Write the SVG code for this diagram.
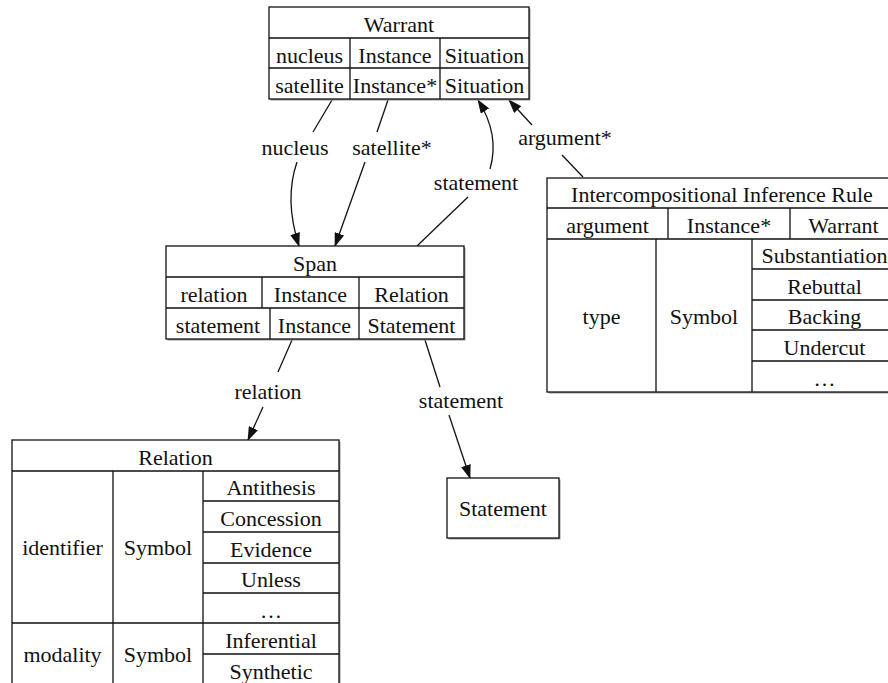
<svg xmlns="http://www.w3.org/2000/svg" width="888" height="683" viewBox="0 0 888 683">
<defs>
<marker id="ah" markerUnits="userSpaceOnUse" markerWidth="14" markerHeight="10" refX="13" refY="5" orient="auto">
<path d="M0,0 L14,5 L0,10 z" fill="#111"/>
</marker>
</defs>
<rect width="888" height="683" fill="#fff"/>
<g font-family="Liberation Serif" font-size="22" text-anchor="middle">

<g id="connectors" stroke="#111" stroke-width="1.3" fill="none">
<path d="M332,100 L313,132"/>
<path d="M297,162 C288,188 290,218 299,246" marker-end="url(#ah)"/>
<path d="M388,100 L377,132"/>
<path d="M365,162 L335,246" marker-end="url(#ah)"/>
<path d="M417,246 L468,197"/>
<path d="M490,169 C497,145 492,122 478,100" marker-end="url(#ah)"/>
<path d="M583,177 L562,155"/>
<path d="M532,125 L509,100" marker-end="url(#ah)"/>
<path d="M292,340 L278,372"/>
<path d="M263,407 L248,440" marker-end="url(#ah)"/>
<path d="M425,340 L440,387"/>
<path d="M449,415 L470,478" marker-end="url(#ah)"/>
<g fill="#111" stroke="none">
<text font-family="Liberation Serif" font-size="22" x="295" y="155">nucleus</text>
<text font-family="Liberation Serif" font-size="22" x="392" y="155">satellite*</text>
<text font-family="Liberation Serif" font-size="22" x="476" y="190">statement</text>
<text font-family="Liberation Serif" font-size="22" x="565" y="145">argument*</text>
<text font-family="Liberation Serif" font-size="22" x="268" y="399">relation</text>
<text font-family="Liberation Serif" font-size="22" x="461" y="408">statement</text>
</g>
</g>

<g id="warrant" fill="#111">
<rect x="270.5" y="8.5" width="260" height="92" fill="#999"/>
<rect x="269" y="7" width="260" height="92" fill="#fff" stroke="#111" stroke-width="1.3"/>
<path d="M269,38 H529 M269,68 H529 M350,38 V99 M440,38 V99" stroke="#111" stroke-width="1.3" fill="none"/>
<text font-family="Liberation Serif" font-size="22" x="399" y="32">Warrant</text>
<text font-family="Liberation Serif" font-size="22" x="309.5" y="63">nucleus</text>
<text font-family="Liberation Serif" font-size="22" x="395" y="63">Instance</text>
<text font-family="Liberation Serif" font-size="22" x="484.5" y="63">Situation</text>
<text font-family="Liberation Serif" font-size="22" x="309.5" y="93">satellite</text>
<text font-family="Liberation Serif" font-size="22" x="395" y="93">Instance*</text>
<text font-family="Liberation Serif" font-size="22" x="484.5" y="93">Situation</text>
</g>

<g id="span" fill="#111">
<rect x="167.5" y="247.5" width="298" height="93" fill="#999"/>
<rect x="166" y="246" width="298" height="93" fill="#fff" stroke="#111" stroke-width="1.3"/>
<path d="M166,277 H464 M166,308 H464 M262,277 V308 M359,277 V339 M270,308 V339" stroke="#111" stroke-width="1.3" fill="none"/>
<text font-family="Liberation Serif" font-size="22" x="315" y="271">Span</text>
<text font-family="Liberation Serif" font-size="22" x="214" y="302">relation</text>
<text font-family="Liberation Serif" font-size="22" x="310.5" y="302">Instance</text>
<text font-family="Liberation Serif" font-size="22" x="411.5" y="302">Relation</text>
<text font-family="Liberation Serif" font-size="22" x="218" y="333">statement</text>
<text font-family="Liberation Serif" font-size="22" x="314.5" y="333">Instance</text>
<text font-family="Liberation Serif" font-size="22" x="411.5" y="333">Statement</text>
</g>

<g id="inference-rule" fill="#111">
<rect x="548.5" y="179.5" width="350" height="214" fill="#999"/>
<rect x="547" y="178" width="350" height="214" fill="#fff" stroke="#111" stroke-width="1.3"/>
<path d="M547,208 H897 M547,239 H897 M668,208 V239 M790,208 V239 M656,239 V392 M752,239 V392 M752,269 H897 M752,300 H897 M752,330 H897 M752,361 H897" stroke="#111" stroke-width="1.3" fill="none"/>
<text font-family="Liberation Serif" font-size="22" x="722" y="202">Intercompositional Inference Rule</text>
<text font-family="Liberation Serif" font-size="22" x="607.5" y="233">argument</text>
<text font-family="Liberation Serif" font-size="22" x="729" y="233">Instance*</text>
<text font-family="Liberation Serif" font-size="22" x="843.5" y="233">Warrant</text>
<text font-family="Liberation Serif" font-size="22" x="601.5" y="323.5">type</text>
<text font-family="Liberation Serif" font-size="22" x="704" y="323.5">Symbol</text>
<text font-family="Liberation Serif" font-size="22" x="824.5" y="263">Substantiation</text>
<text font-family="Liberation Serif" font-size="22" x="824.5" y="294">Rebuttal</text>
<text font-family="Liberation Serif" font-size="22" x="824.5" y="324">Backing</text>
<text font-family="Liberation Serif" font-size="22" x="824.5" y="355">Undercut</text>
<text font-family="Liberation Serif" font-size="22" x="824.5" y="386">&#8230;</text>
</g>

<g id="relation" fill="#111">
<rect x="13.5" y="441.5" width="327" height="245" fill="#999"/>
<rect x="12" y="440" width="327" height="245" fill="#fff" stroke="#111" stroke-width="1.3"/>
<path d="M12,471 H339 M12,623 H339 M113,471 V685 M203,471 V685 M203,501 H339 M203,532 H339 M203,563 H339 M203,593 H339 M203,654 H339" stroke="#111" stroke-width="1.3" fill="none"/>
<text font-family="Liberation Serif" font-size="22" x="175.5" y="465">Relation</text>
<text font-family="Liberation Serif" font-size="22" x="62.5" y="555">identifier</text>
<text font-family="Liberation Serif" font-size="22" x="158" y="555">Symbol</text>
<text font-family="Liberation Serif" font-size="22" x="271" y="495">Antithesis</text>
<text font-family="Liberation Serif" font-size="22" x="271" y="526">Concession</text>
<text font-family="Liberation Serif" font-size="22" x="271" y="557">Evidence</text>
<text font-family="Liberation Serif" font-size="22" x="271" y="587">Unless</text>
<text font-family="Liberation Serif" font-size="22" x="271" y="618">&#8230;</text>
<text font-family="Liberation Serif" font-size="22" x="62.5" y="662">modality</text>
<text font-family="Liberation Serif" font-size="22" x="158" y="662">Symbol</text>
<text font-family="Liberation Serif" font-size="22" x="271" y="648">Inferential</text>
<text font-family="Liberation Serif" font-size="22" x="271" y="679">Synthetic</text>
</g>

<g id="statement" fill="#111">
<rect x="448.5" y="479.5" width="112" height="60" fill="#999"/>
<rect x="447" y="478" width="112" height="60" fill="#fff" stroke="#111" stroke-width="1.3"/>
<text font-family="Liberation Serif" font-size="22" x="503" y="516">Statement</text>
</g>
</g>
</svg>
